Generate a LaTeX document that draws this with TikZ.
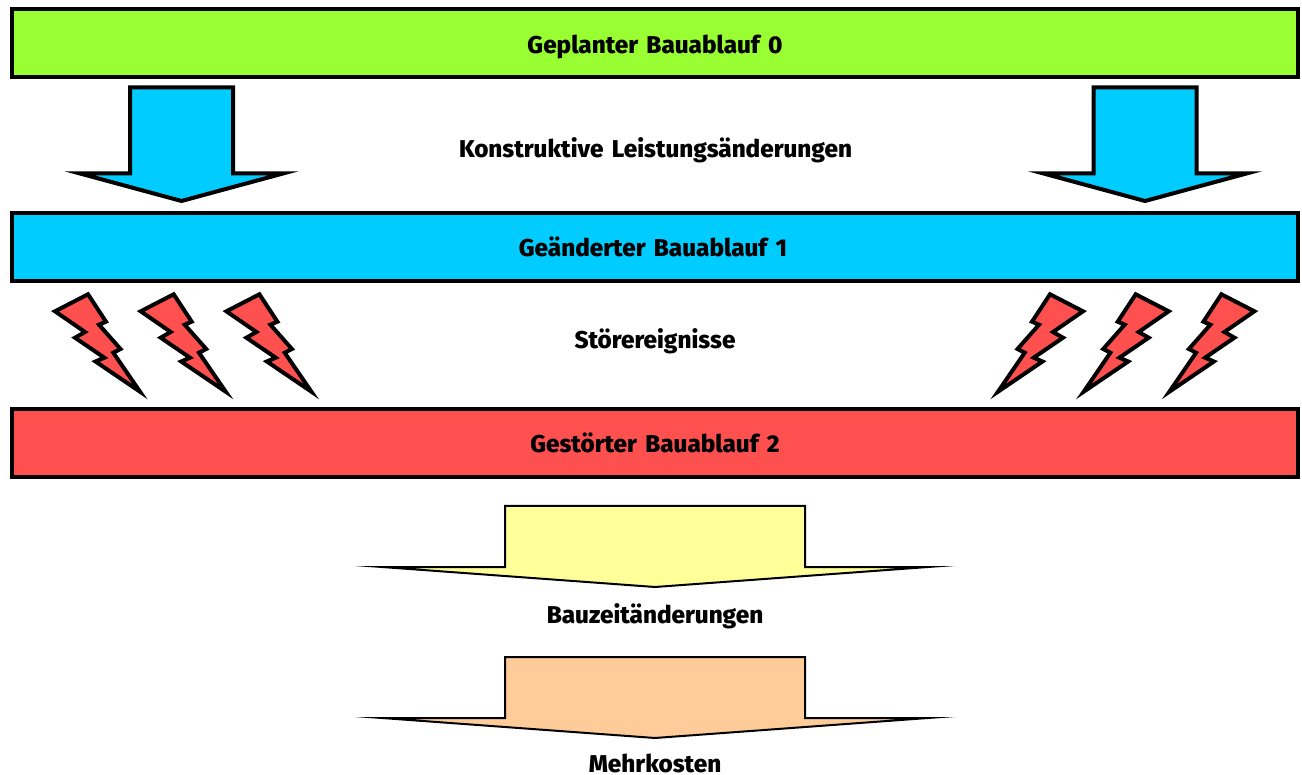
\documentclass[tikz,border=0pt]{standalone}
\usepackage{fontspec}
\setmainfont{Fira Sans}[BoldFont={Fira Sans ExtraBold},WordSpace=1.5]
\definecolor{cgreen}{HTML}{99FF33}
\definecolor{cblue}{HTML}{00CCFF}
\definecolor{cred}{HTML}{FF5050}
\definecolor{cyellow}{HTML}{FFFF99}
\definecolor{corange}{HTML}{FFCC99}
\newcommand{\boltoutline}{(55,311.3)--(88,294.3)--(106,321.7)--(99,324.7)--(120.5,349)--(113.3,352.7)--(140,391.7)--(95.5,361.5)--(104.3,357.7)--(75,337.7)--(85,332)--cycle}
\tikzset{
  lbl/.style={font=\fontsize{24.3}{26}\selectfont\bfseries,text=black,inner sep=0pt,text height=21pt,text depth=1pt},
  bar/.style={draw=black,line width=4pt,lbl,minimum width=1286pt,minimum height=68pt,anchor=center},
  bigarrow/.style={draw=black,fill=cblue,line width=4pt,miter limit=20},
  flatarrow/.style={draw=black,line width=2pt,miter limit=40},
  bolt/.style={draw=black,fill=cred,line width=4pt,miter limit=20}
}
\begin{document}
\begin{tikzpicture}[x=1pt,y=-1pt]
\useasboundingbox (0,0) rectangle (1302,775);
\node[bar,fill=cgreen] (plan) at (655,43.5) {Geplanter Bauablauf 0};
\node[bar,fill=cblue] (changed) at (655,247) {\kern-4pt Geänderter Bauablauf 1};
\node[bar,fill=cred] (disturbed) at (655,443) {Gestörter Bauablauf 2};
\node[lbl] (konstr) at (655.5,148) {Konstruktive Leistungsänderungen};
\node[lbl] (stoer) at (655,339) {Störereignisse};
\node[lbl] (zeit) at (655,613) {Bauzeitänderungen};
\node[lbl] (kosten) at (655,762.5) {Mehrkosten};
\foreach \dx in {0,963.5}
  \path[bigarrow,xshift=\dx pt] (130,87.5)--(233,87.5)--(233,173.5)--(283,173.5)--(181.5,201)--(80,173.5)--(130,173.5)--cycle;
\foreach \dx in {0,85.7,171.4} {
  \path[bolt,xshift=\dx pt] \boltoutline;
  \path[bolt,xshift=1309.4pt-\dx pt,xscale=-1] \boltoutline;
}
\path[flatarrow,fill=cyellow] (505,506)--(805,506)--(805,567)--(928,567)--(655,587)--(382,567)--(505,567)--cycle;
\path[flatarrow,fill=corange] (505,657)--(805,657)--(805,718)--(928,718)--(655,738)--(382,718)--(505,718)--cycle;
\end{tikzpicture}
\end{document}
